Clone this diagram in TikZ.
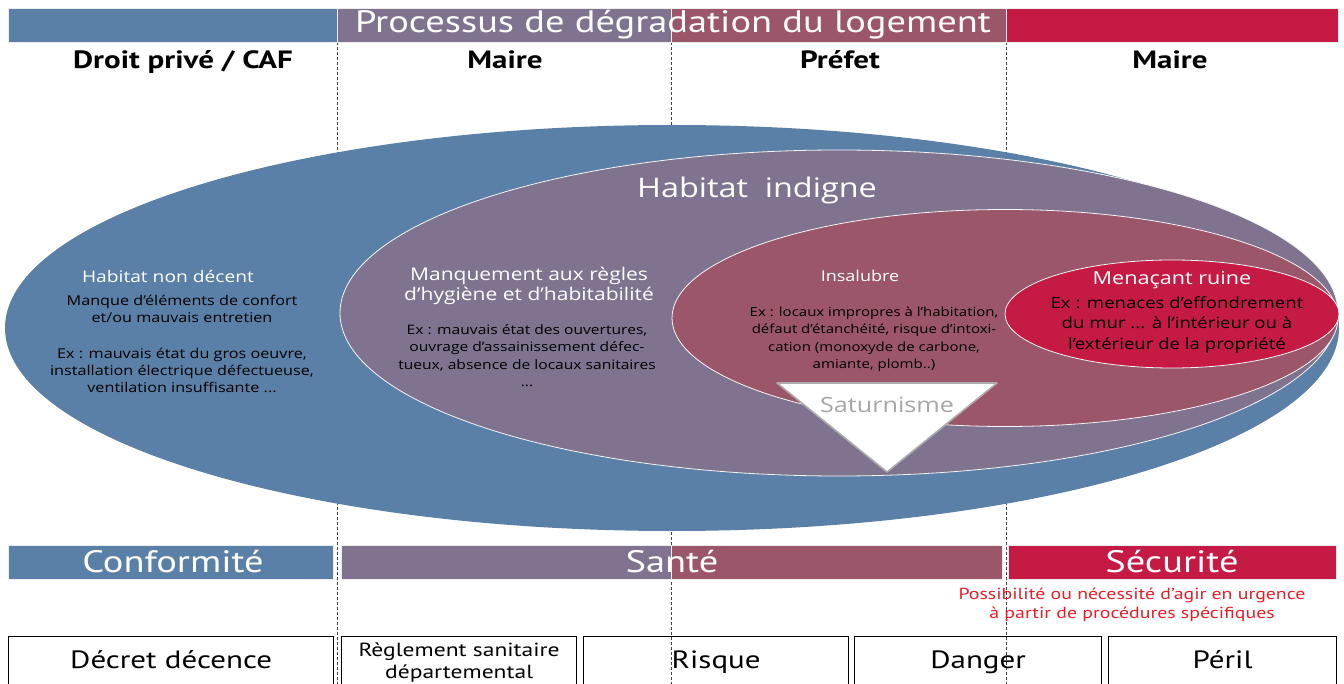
\documentclass[tikz,border=0pt]{standalone}
\usepackage{fontspec}
\setmainfont{PT Sans}[FakeStretch=1.24]
\newfontfamily\ovalfont{Open Sans}[FakeStretch=1.2]
\usetikzlibrary{shapes.geometric, positioning}

\definecolor{bleu}{RGB}{91,128,168}
\definecolor{lilas}{RGB}{127,115,144}
\definecolor{mauve}{RGB}{155,86,106}
\definecolor{cramoisi}{RGB}{196,26,68}
\definecolor{rouge}{RGB}{230,30,40}
\newcommand{\fs}[2]{\fontsize{#1}{#2}\selectfont}

\begin{document}
\begin{tikzpicture}[x=1pt, y=-1pt, band/.style={rectangle,
            draw=white!85!gray, line width=0.6pt, minimum height=34pt,
            inner sep=0pt, anchor=north west}, oval/.style={ellipse,
            inner sep=0pt, draw=white!92!gray, line width=0.8pt},
        chef/.style={font=\bfseries\fs{25}{27}},
        bandtext/.style={text=white, font=\fs{31}{33}},
        casebox/.style={rectangle, draw=black, line width=1.3pt,
            minimum height=52pt, inner sep=0pt, anchor=north west,
            font=\fs{25}{22}, align=center, text height=18pt, text
            depth=6pt}, ovaltitle/.style={text=white, align=center,
            font=\ovalfont\fs{16}{20}}, ovaltext/.style={text=black,
            align=center, font=\ovalfont\fs{13.5}{17}},
        sep/.style={dashed, dash pattern=on 3pt off 2pt, line
            width=0.8pt, black!75}, ]

        \useasboundingbox (0,0) rectangle (1344,684);
        \clip (0,0) rectangle (1344,684);

        % separateurs
        \foreach \x [count=\i] in {337,671,1006} {
            \coordinate (sh\i) at (\x,42);
            \coordinate (sb\i) at (\x,684);
            \draw[sep] (sh\i) -- (sb\i);
        }

        % bandeau du haut
        \node[band, fill=bleu, minimum width=329pt] (hbleu) at (8,8) {};
        \node[band, fill=lilas, minimum width=334pt] (hlilas) at
        (337,8) {};
        \node[band, fill=mauve, minimum width=335pt] (hmauve) at
        (671,8) {};
        \node[band, fill=cramoisi, minimum width=332pt] (hcramoisi)
        at (1006,8) {};
        \node[bandtext] (processus) at (673,25) {Processus de
            dégradation du logement};

        \node[chef] (droit) at (183,62) {Droit privé / CAF};
        \node[chef] (maire) at (505,60) {Maire};
        \node[chef] (prefet) at (840,60) {Préfet};
        \node[chef] (mairebis) at (1170,60) {Maire};

        % ellipses
        \node[oval, fill=bleu, draw=none, minimum width=1334pt,
        minimum height=406pt] (nondecent) at (672,328) {};
        \node[oval, fill=lilas, minimum width=998pt, minimum
        height=326pt] (indigne) at (839,313) {};
        \node[oval, fill=mauve, minimum width=666pt, minimum
        height=217pt] (insalubre) at (1005,318) {};
        \node[oval, fill=cramoisi, minimum width=334pt, minimum
        height=108pt] (ruine) at (1172,314) {};

        \node[text=white, font=\ovalfont\fs{27}{29}] (tindigne) at
        (757,190) {Habitat\ \ indigne};

        \node[ovaltitle] (tnondecent) at (168,276) {Habitat non
            décent};
        \node[ovaltext, anchor=north] (xnondecent) at (182,292)
        {Manque d’éléments de confort\\et/ou mauvais
            entretien\\[19pt]Ex : mauvais état du gros
            oeuvre,\\installation électrique
            défectueuse,\\ventilation insuffisante ...};

        \node[ovaltitle, font=\ovalfont\fs{17.5}{20}] (tmanquement) at
        (529,286) {Manquement aux règles\\d’hygiène et
            d’habitabilité};
        \node[ovaltext, font=\ovalfont\fs{13}{17.5}, anchor=north]
        (xmanquement) at (527,321) {Ex : mauvais état des
            ouvertures,\\ouvrage d’assainissement défec-\\tueux,
            absence de locaux sanitaires\\...};

        \node[ovaltitle, font=\ovalfont\fs{15}{18}] (tinsalubre) at
        (860,276) {Insalubre};
        \node[ovaltext, font=\ovalfont\fs{12.5}{17.5}, anchor=north]
        (xinsalubre) at (874,303) {Ex : locaux impropres à
            l’habitation,\\défaut d’étanchéité, risque
            d’intoxi-\\cation (monoxyde de carbone,\\amiante,
            plomb..)};

        \node[ovaltitle, font=\ovalfont\fs{18}{20}] (truine) at
        (1172,280) {Menaçant ruine};
        \node[ovaltext, font=\ovalfont\fs{15.5}{20.5}, anchor=north]
        (xruine) at (1177,293) {Ex : menaces
            d’effondrement\\du mur ... à l’intérieur ou à\\l’extérieur
            de la propriété};

        % saturnisme
        \coordinate (satg) at (777,383);
        \coordinate (satd) at (997,383);
        \coordinate (satp) at (887,472);
        \draw[fill=white, draw=gray!65, line width=1.6pt,
        line join=round] (satg) -- (satd) -- (satp) -- cycle;
        \node[text=gray!70, font=\ovalfont\fs{21}{23}] (saturnisme)
        at (887,405) {Saturnisme};

        % bandeau du bas
        \node[band, fill=bleu, minimum width=325pt] (bconf) at (8,545)
        {};
        \node[band, fill=lilas, minimum width=330pt] (bsante) at
        (341,545) {};
        \node[band, fill=mauve, minimum width=331pt] (bsantebis) at
        (671,545) {};
        \node[band, fill=cramoisi, minimum width=328pt] (bsecu) at
        (1008,545) {};
        \node[bandtext] (conformite) at (173,562) {Conformité};
        \node[bandtext] (sante) at (672,562) {Santé};
        \node[bandtext] (securite) at (1172,562) {Sécurité};

        \node[text=rouge, font=\fs{16}{19}, align=center] (urgence)
        at (1132,605) {Possibilité ou nécessité d’agir en
            urgence\\à partir de procédures spécifiques};

        % textes de reference
        \node[casebox, minimum width=325pt] (decret) at (8,636)
        {Décret décence};
        \node[casebox, minimum width=235pt, font=\fs{19}{22}, text
        height=, text depth=] (reglement) at (341,636) {Règlement
            sanitaire\\départemental};
        \node[casebox, minimum width=265pt] (risque) at (583,636)
        {Risque};
        \node[casebox, minimum width=247pt] (danger) at (854,636)
        {Danger};
        \node[casebox, minimum width=228pt] (peril) at (1108,636)
        {Péril};
    \end{tikzpicture}
\end{document}
